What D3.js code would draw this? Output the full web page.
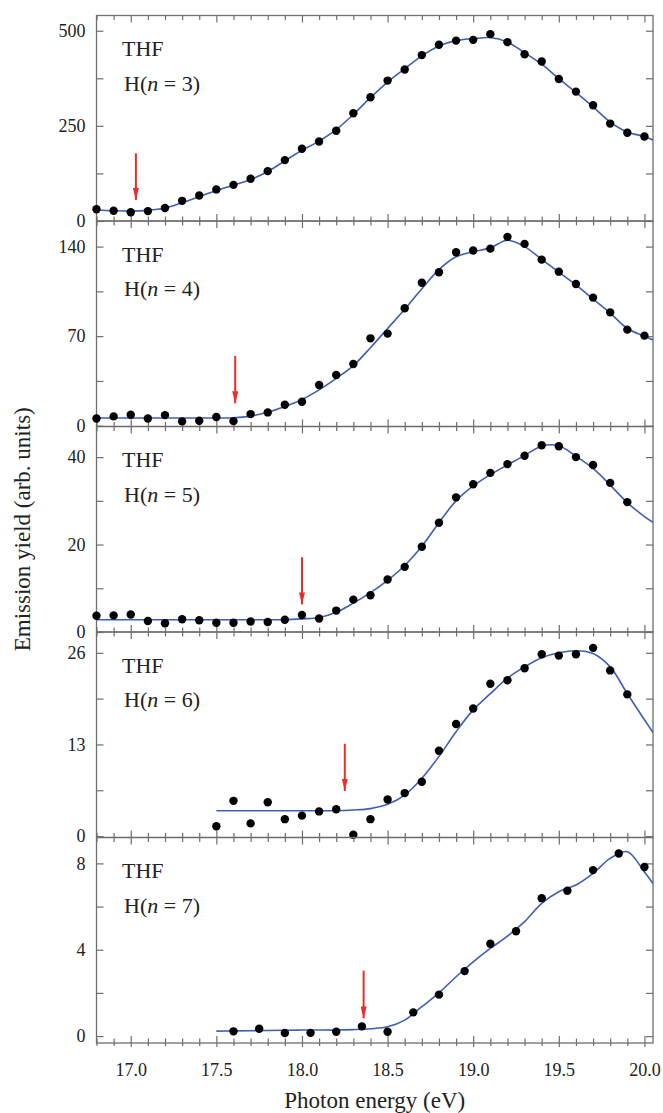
<!DOCTYPE html>
<html>
<head>
<meta charset="utf-8">
<script src="https://cdn.jsdelivr.net/npm/d3@7"></script>
<style>
  body { margin: 0; background: #fff; }
  svg { display: block; }
  svg text { font-family: "Liberation Serif", "Times New Roman", serif; }
</style>
</head>
<body>
<svg id="chart"></svg>
<script>
// measured data points (photon energy in eV, emission yield in arb. units)
const energyA = [16.8, 16.9, 17.0, 17.1, 17.2, 17.3, 17.4, 17.5, 17.6, 17.7, 17.8, 17.9, 18.0, 18.1, 18.2, 18.3, 18.4,
    18.5, 18.6, 18.7, 18.8, 18.9, 19.0, 19.1, 19.2, 19.3, 19.4, 19.5, 19.6, 19.7, 19.8, 19.9, 20.0];
const energyN5 = energyA.slice(0, 32);
const energyN6 = [17.5, 17.6, 17.7, 17.8, 17.9, 18.0, 18.1, 18.2, 18.3, 18.4, 18.5, 18.6, 18.7, 18.8, 18.9, 19.0,
    19.1, 19.2, 19.3, 19.4, 19.5, 19.6, 19.7, 19.8, 19.9];
const energyN7 = [17.6, 17.75, 17.9, 18.05, 18.2, 18.35, 18.5, 18.65, 18.8, 18.95, 19.1, 19.25, 19.4, 19.55, 19.7, 19.85, 20.0];

const yieldN3 = [31, 27, 23, 26, 34, 53, 67, 83, 95, 111, 131, 160, 190, 209, 237, 283, 325,
    369, 398, 436, 463, 474, 476, 491, 470, 438, 419, 373, 340, 304, 256, 232, 222];
const yieldN4 = [5.7, 7.3, 8.6, 5.7, 8.3, 3.4, 3.9, 6.8, 3.6, 9.1, 10.4, 16.4, 18.8, 31.8, 39.6, 48.2, 68.3,
    72.0, 91.8, 111.8, 119.9, 135.6, 136.9, 138.4, 147.6, 142.1, 129.8, 120.4, 110.8, 100.1, 88.6, 75.1, 70.4];
const yieldN5 = [3.7, 3.8, 4.0, 2.5, 2.0, 2.9, 2.7, 2.1, 2.1, 2.4, 2.3, 2.8, 3.9, 3.1, 4.9, 7.4, 8.4,
    12.0, 14.9, 19.5, 25.0, 30.8, 33.8, 36.4, 38.4, 40.3, 42.7, 42.5, 40.0, 38.2, 34.1, 29.7];
const yieldN6 = [1.4, 5.0, 1.8, 4.8, 2.4, 2.9, 3.5, 3.8, 0.2, 2.4, 5.2, 6.1, 7.7, 12.1, 15.9, 18.1,
    21.6, 22.1, 23.8, 25.8, 25.6, 25.8, 26.7, 23.5, 20.1];
const yieldN7 = [0.22, 0.34, 0.14, 0.15, 0.20, 0.45, 0.20, 1.10, 1.92, 3.01, 4.28, 4.86, 6.39, 6.73, 7.69, 8.46, 7.83];

// fitted curves
const fitEnergyA = [16.8, 16.9, 17.0, 17.1, 17.2, 17.3, 17.4, 17.5, 17.6, 17.7, 17.8, 17.9, 18.0, 18.1, 18.2, 18.3, 18.4,
    18.5, 18.6, 18.7, 18.8, 18.9, 19.0, 19.1, 19.2, 19.3, 19.4, 19.5, 19.6, 19.7, 19.8, 19.9, 20.0, 20.05];
const fitEnergyB = [17.5, 17.6, 17.7, 17.8, 17.9, 18.0, 18.1, 18.2, 18.3, 18.4, 18.5, 18.6, 18.7, 18.8, 18.9, 19.0,
    19.1, 19.2, 19.3, 19.4, 19.5, 19.6, 19.7, 19.8, 19.9, 20.0, 20.05];
const fitN3 = [29, 27, 26, 28, 34, 48, 64, 80, 94, 109, 130, 158, 186, 210, 240, 280, 324,
    365, 400, 434, 460, 474, 479, 482, 470, 442, 412, 374, 338, 300, 260, 234, 222, 213];
const fitN4 = [6, 6, 6, 6, 6, 6, 6, 6, 6.2, 7.5, 10.5, 15, 20.5, 28, 37, 47, 61,
    76, 91, 107, 122, 132, 136, 139, 145, 140, 130, 120, 110, 99, 88, 76, 70, 67];
const fitN5 = [2.8, 2.8, 2.8, 2.8, 2.8, 2.8, 2.8, 2.8, 2.8, 2.8, 2.8, 2.8, 3.0, 3.3, 4.5, 6.6, 9.0,
    11.8, 15.2, 19.6, 25.0, 30.0, 33.4, 36.0, 38.2, 40.4, 42.5, 42.6, 40.2, 37.4, 33.6, 29.6, 26.4, 25.1];
const fitN6 = [3.6, 3.6, 3.6, 3.6, 3.6, 3.6, 3.6, 3.6, 3.7, 3.9, 4.5, 5.8, 8.2, 11.3, 14.8, 17.9,
    20.2, 22.4, 24.0, 25.3, 26.0, 26.3, 25.9, 24.0, 20.2, 16.5, 14.7];
const fitN7 = [0.23, 0.24, 0.25, 0.26, 0.27, 0.28, 0.28, 0.28, 0.30, 0.34, 0.43, 0.74, 1.36, 2.0, 2.75, 3.44,
    4.06, 4.63, 5.3, 6.15, 6.69, 7.0, 7.54, 8.23, 8.54, 7.6, 7.07];

// onset arrows: energy, tip value, tail value
const arrowEnergy = [17.03, 17.61, 18.0, 18.25, 18.36];
const arrowTip = [55, 17.5, 6.3, 6.4, 0.82];
const arrowTail = [178, 54.5, 17.1, 13.1, 3.03];

const stateLabels = ["3", "4", "5", "6", "7"];
const yDomains = [[0, 540], [-0.6, 160], [0, 47], [-0.2, 28.95], [-0.32, 9.2]];
const yTicks = [[0, 125, 250, 375, 500], [0, 35, 70, 105, 140], [0, 10, 20, 30, 40], [0, 6.5, 13, 19.5, 26], [0, 2, 4, 6, 8]];
const yLabelTicks = [[0, 250, 500], [0, 70, 140], [0, 20, 40], [0, 13, 26], [0, 4, 8]];
const xMajor = [17.0, 17.5, 18.0, 18.5, 19.0, 19.5, 20.0];
const xMinor = d3.range(168, 201).map(d => d / 10);

const panels = [
    {x: energyA, y: yieldN3, fx: fitEnergyA, fy: fitN3},
    {x: energyA, y: yieldN4, fx: fitEnergyA, fy: fitN4},
    {x: energyN5, y: yieldN5, fx: fitEnergyA, fy: fitN5},
    {x: energyN6, y: yieldN6, fx: fitEnergyB, fy: fitN6},
    {x: energyN7, y: yieldN7, fx: fitEnergyB, fy: fitN7}
];

const W = 663, H = 1113;
const margin = {top: 15.5, left: 96.5, right: 10, bottom: 70};
const plotW = W - margin.left - margin.right;
const panelH = (H - margin.top - margin.bottom) / panels.length;
const serif = "Liberation Serif, Times New Roman, serif";

const svg = d3.select("#chart").attr("width", W).attr("height", H);

const x = d3.scaleLinear().domain([16.8, 20.05]).range([margin.left, margin.left + plotW]);

const frameColor = "#6e6e6e";
const curveColor = "#3f5fb5";
const arrowColor = "#ee2b2b";

svg.append("defs").append("marker")
    .attr("id", "head")
    .attr("viewBox", "0 0 12 6")
    .attr("refX", 12).attr("refY", 3)
    .attr("markerWidth", 6).attr("markerHeight", 3)
    .attr("markerUnits", "strokeWidth")
    .attr("orient", "auto")
    .append("path")
    .attr("d", "M0,0 L12,3 L0,6 Z")
    .attr("fill", arrowColor);

panels.forEach(function(p, i) {
    const top = margin.top + i * panelH;
    const bottom = top + panelH;
    const y = d3.scaleLinear().domain(yDomains[i]).range([bottom, top]);
    const g = svg.append("g");

    // frame
    g.append("rect")
        .attr("x", margin.left).attr("y", top)
        .attr("width", plotW).attr("height", panelH)
        .attr("fill", "none").attr("stroke", frameColor).attr("stroke-width", 1.3);

    // x ticks, inward on top and bottom
    function xTicks(axis, ypos, values, size) {
        g.append("g")
            .attr("transform", "translate(0," + ypos + ")")
            .call(axis(x).tickValues(values).tickSize(size).tickFormat(""))
            .call(s => s.select(".domain").remove())
            .selectAll("line").attr("stroke", frameColor).attr("stroke-width", 1.2);
    }
    const minorOnly = xMinor.filter(v => !xMajor.some(m => Math.abs(m - v) < 1e-6));
    xTicks(d3.axisBottom, bottom, minorOnly, -4.5);
    xTicks(d3.axisBottom, bottom, xMajor, -7);
    xTicks(d3.axisTop, top, minorOnly, -4.5);
    xTicks(d3.axisTop, top, xMajor, -7);
    if (i === panels.length - 1) {
        xTicks(d3.axisBottom, bottom, minorOnly, 3);
        xTicks(d3.axisBottom, bottom, xMajor, 4);
        g.append("g")
            .attr("transform", "translate(0," + bottom + ")")
            .call(d3.axisBottom(x).tickValues(xMajor).tickSize(0).tickPadding(20).tickFormat(d3.format(".1f")))
            .attr("font-family", serif).attr("font-size", 18)
            .call(s => s.select(".domain").remove())
            .selectAll("text").attr("fill", "#222");
    }

    // y axis left with labels, right mirror
    g.append("g")
        .attr("transform", "translate(" + margin.left + ",0)")
        .call(d3.axisLeft(y).tickValues(yTicks[i]).tickSize(-7).tickPadding(11)
            .tickFormat(d => yLabelTicks[i].includes(d) ? d3.format("d")(d) : ""))
        .attr("font-family", serif).attr("font-size", 18)
        .call(s => s.select(".domain").remove())
        .call(s => s.selectAll("line").attr("stroke", frameColor).attr("stroke-width", 1.2))
        .selectAll("text").attr("fill", "#222");
    g.append("g")
        .attr("transform", "translate(" + (margin.left + plotW) + ",0)")
        .call(d3.axisRight(y).tickValues(yTicks[i]).tickSize(-7).tickFormat(""))
        .call(s => s.select(".domain").remove())
        .selectAll("line").attr("stroke", frameColor).attr("stroke-width", 1.2);

    // fitted curve
    const fit = p.fx.map((e, k) => [e, p.fy[k]]);
    g.append("path")
        .datum(fit)
        .attr("fill", "none")
        .attr("stroke", curveColor)
        .attr("stroke-width", 1.6)
        .attr("d", d3.line().curve(d3.curveCatmullRom.alpha(0.5))
            .x(d => x(d[0])).y(d => y(d[1])));

    // data points
    g.selectAll("circle")
        .data(p.x.map((e, k) => [e, p.y[k]]))
        .enter()
        .append("circle")
        .attr("cx", d => x(d[0]))
        .attr("cy", d => y(d[1]))
        .attr("r", 4.2)
        .attr("fill", "#000");

    // onset arrow
    g.append("line")
        .attr("x1", x(arrowEnergy[i])).attr("x2", x(arrowEnergy[i]))
        .attr("y1", y(arrowTail[i])).attr("y2", y(arrowTip[i]))
        .attr("stroke", arrowColor).attr("stroke-width", 2)
        .attr("marker-end", "url(#head)");

    // labels
    g.append("text")
        .attr("x", 122).attr("y", top + 40.5)
        .attr("font-size", 22).attr("fill", "#222")
        .text("THF");
    const h = g.append("text")
        .attr("x", 124).attr("y", top + 75)
        .attr("font-size", 22).attr("fill", "#222");
    h.append("tspan").text("H(");
    h.append("tspan").attr("font-style", "italic").text("n");
    h.append("tspan").text(" = " + stateLabels[i] + ")");
});

// axis titles
svg.append("text")
    .attr("x", margin.left + plotW / 2).attr("y", 1108)
    .attr("text-anchor", "middle")
    .attr("font-size", 23).attr("fill", "#222")
    .text("Photon energy (eV)");

svg.append("text")
    .attr("transform", "translate(30," + (margin.top + panelH * 2.5) + ") rotate(-90)")
    .attr("text-anchor", "middle")
    .attr("font-size", 23).attr("fill", "#222")
    .text("Emission yield (arb. units)");
</script>
</body>
</html>
